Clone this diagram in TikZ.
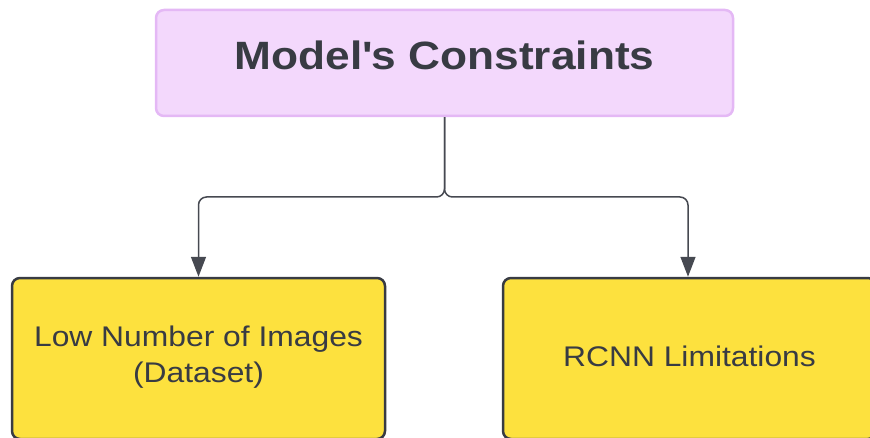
\documentclass[tikz,border=0pt]{standalone}
\usepackage{fontspec}
\setmainfont{Liberation Sans}[FakeStretch=1.12]
\usetikzlibrary{arrows.meta,positioning}

\definecolor{headfill}{RGB}{243,216,252}
\definecolor{headline}{RGB}{228,184,245}
\definecolor{causefill}{RGB}{253,225,62}
\definecolor{inkgray}{RGB}{56,59,67}
\definecolor{linkgray}{RGB}{70,73,81}

\begin{document}
\begin{tikzpicture}[x=1pt,y=1pt,
  headbox/.style={draw=headline,line width=2.5pt,fill=headfill,rounded corners=8pt,minimum width=577pt,minimum height=106pt,inner sep=0pt},
  causebox/.style={draw=inkgray,line width=2.5pt,fill=causefill,rounded corners=8pt,minimum width=373pt,minimum height=161pt,inner sep=0pt},
  headtext/.style={text=inkgray,inner sep=0pt,font=\fontsize{39.5}{44}\selectfont\bfseries},
  causetext/.style={text=inkgray,inner sep=0pt,align=center,font=\fontsize{28.4}{36}\selectfont},
  link/.style={draw=linkgray,line width=1.5pt,rounded corners=8pt,-{Triangle[length=20pt,width=15pt]}}]
\useasboundingbox (0,0) rectangle (870,437);
% top box
\node[headbox] (model) at (444.5,374) {};
\node[headtext] (modeltxt) at (444.5,382) {Model\textquotesingle s Constraints};
% the two constraints, cut by the lower edge
\node[causebox] (lowdata) at (198.5,78.5) {};
\node[causetext] (lowdatatxt) at (198.5,79.7) {Low Number of Images\\(Dataset)};
\node[causebox] (rcnn) at (689.5,78.5) {};
\node[causetext] (rcnntxt) at (689.5,80.3) {RCNN Limitations};
% split under the top box
\coordinate (split) at (model.south |- 0,240);
\draw[link] (model.south) -- (split) -| (lowdata.north);
\draw[link] (model.south) -- (split) -| ([xshift=-1.5pt]rcnn.north);
\end{tikzpicture}
\end{document}
